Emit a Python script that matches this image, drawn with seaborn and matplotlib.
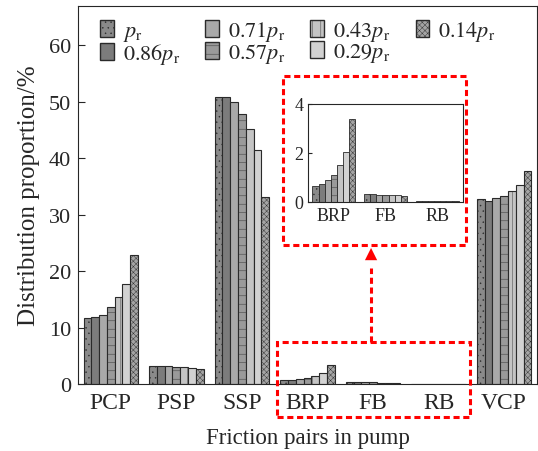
import matplotlib
matplotlib.use('Agg')
import matplotlib.pyplot as plt
from matplotlib.patches import Rectangle, FancyArrowPatch
import numpy as np
import pandas as pd
import seaborn as sns

# data
pairs = ['PCP', 'PSP', 'SSP', 'BRP', 'FB', 'RB', 'VCP']
levels = [r'$p_\mathrm{r}$', r'$0.86p_\mathrm{r}$', r'$0.71p_\mathrm{r}$', r'$0.57p_\mathrm{r}$',
          r'$0.43p_\mathrm{r}$', r'$0.29p_\mathrm{r}$', r'$0.14p_\mathrm{r}$']
pcp = [11.7, 11.9, 12.2, 13.6, 15.4, 17.7, 22.8]
psp = [3.2, 3.2, 3.2, 3.1, 3.0, 2.9, 2.6]
ssp = [50.8, 50.8, 49.9, 47.8, 45.1, 41.5, 33.2]
brp = [0.66, 0.75, 0.9, 1.1, 1.5, 2.05, 3.4]
fb = [0.32, 0.31, 0.30, 0.29, 0.28, 0.27, 0.23]
rb = [0.03, 0.03, 0.03, 0.03, 0.03, 0.03, 0.02]
vcp = [32.7, 32.4, 32.9, 33.3, 34.2, 35.3, 37.7]

values = [pcp, psp, ssp, brp, fb, rb, vcp]
df = pd.DataFrame([(p, l, v[i]) for p, v in zip(pairs, values) for i, l in enumerate(levels)],
                  columns=['pair', 'level', 'value'])

sns.set_style('ticks')
plt.rcParams['font.family'] = ['Liberation Serif', 'DejaVu Serif']
plt.rcParams['mathtext.fontset'] = 'stix'
plt.rcParams['hatch.linewidth'] = 0.3

faces = ['#8a8a8a', '#7c7c7c', '#a9a9a9', '#9a9a9a', '#c4c4c4', '#d2d2d2', '#a4a4a4']
hatches = ['...', '', '', '--', '||', '', 'xxxxxx']


def style_bars(ax, lw=0.8):
    for cont, fc, h in zip(ax.containers, faces, hatches):
        for bar in cont:
            bar.set_facecolor(fc)
            bar.set_edgecolor('#2a2a2a')
            bar.set_linewidth(lw)
            bar.set_hatch(h)


fig = plt.figure(figsize=(5.38, 4.52), dpi=100)
ax = fig.add_axes([0.145, 0.148, 0.853, 0.837])
sns.barplot(data=df, x='pair', y='value', hue='level', ax=ax, width=0.83,
            palette=faces, saturation=1, legend=True)
style_bars(ax)
ax.set_xlim(-0.5, 6.5)
ax.set_ylim(0, 67)
ax.set_yticks(range(0, 61, 10))
ax.tick_params(axis='y', direction='in', length=5, labelsize=16, pad=5)
ax.tick_params(axis='x', length=0, labelsize=17, pad=6)
ax.set_xlabel('Friction pairs in pump', fontsize=16.5, labelpad=10)
ax.set_ylabel('Distribution proportion/%', fontsize=18, labelpad=6)

handles, labels = ax.get_legend_handles_labels()
for hnd, fc, h in zip(handles, faces, hatches):
    hnd.set_facecolor(fc)
    hnd.set_edgecolor('#2a2a2a')
    hnd.set_hatch(h)
ax.legend(handles, labels, ncol=4, frameon=False, loc='upper left',
          bbox_to_anchor=(0.005, 1.018), fontsize=16, handlelength=0.6, handleheight=0.8,
          handletextpad=0.4, columnspacing=1.15, labelspacing=-0.08)

# inset for the small pairs
inset_pairs = ['BRP', 'FB', 'RB']
ins = fig.add_axes([0.5725, 0.551, 0.288, 0.217])
sns.barplot(data=df[df['pair'].isin(inset_pairs)], x='pair', y='value', hue='level',
            ax=ins, width=0.83, palette=faces, saturation=1, legend=False)
style_bars(ins, lw=0.6)
ins.set_xlim(-0.5, 2.5)
ins.set_ylim(0, 4)
ins.set_yticks([0, 2, 4])
ins.tick_params(axis='y', direction='in', length=3, labelsize=13)
ins.tick_params(axis='x', length=0, labelsize=13)
ins.set_xlabel('')
ins.set_ylabel('')

# red dashed frames and arrow
ax.add_patch(Rectangle((2.535, -5.85), 2.94, 13.3, fill=False, ec='red', lw=2.2,
                       ls=(0, (2, 1.2)), clip_on=False, zorder=5))
ax.add_patch(Rectangle((2.626, 24.6), 2.79, 30.0, fill=False, ec='red', lw=2.2,
                       ls=(0, (2, 1.2)), clip_on=False, zorder=5))
ax.plot([3.97, 3.97], [7.45, 20.5], color='red', lw=2.2, ls=(0, (2, 1.2)), zorder=5)
ax.add_patch(FancyArrowPatch((3.97, 20.0), (3.97, 24.6), arrowstyle='-|>',
                             mutation_scale=22, color='red', lw=0, zorder=6))

fig.savefig('out.png', dpi=100)
